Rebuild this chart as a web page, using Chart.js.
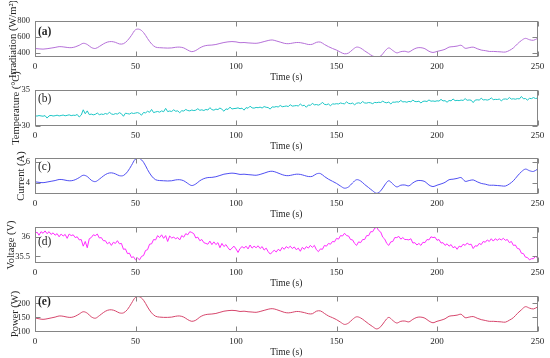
<!DOCTYPE html>
<html>
<head>
<meta charset="utf-8">
<script src="https://cdn.jsdelivr.net/npm/chart.js@4.4.1/dist/chart.umd.min.js"></script>
<style>
  html, body { margin: 0; padding: 0; background: #fff; }
  #wrap { position: relative; width: 550px; height: 358px; overflow: hidden; }
  canvas { position: absolute; left: 0; }
</style>
</head>
<body>
<div id="wrap">
  <canvas id="panel-a" width="550" height="86" style="top:1px"></canvas>
  <canvas id="panel-b" width="550" height="86" style="top:70px"></canvas>
  <canvas id="panel-c" width="550" height="86" style="top:138px"></canvas>
  <canvas id="panel-d" width="550" height="86" style="top:207px"></canvas>
  <canvas id="panel-e" width="550" height="86" style="top:276px"></canvas>
</div>
<script>
// Time axis
const timeTicks = [0, 50, 100, 150, 200, 250];
const smoothStep = 2; // seconds between samples for (a), (c), (e)
const noisyStep = 1;  // seconds between samples for (b), (d)

// (a) Irradiation (W/m2), every 2 s
const irradiation = [
    455, 450, 447, 452, 460, 468, 478, 475, 468, 465,
    475, 495, 520, 505, 468, 455, 480, 512, 535, 542,
    532, 512, 515, 555, 620, 690, 695, 655, 580, 512,
    472, 465, 462, 460, 462, 470, 472, 462, 435, 415,
    430, 462, 485, 495, 498, 505, 518, 530, 538, 542,
    538, 528, 530, 525, 522, 520, 528, 542, 555, 562,
    550, 535, 520, 515, 522, 530, 528, 518, 505, 508,
    532, 535, 505, 478, 455, 435, 408, 388, 398, 440,
    472, 460, 425, 392, 360, 348, 360, 420, 462, 430,
    400, 415, 420, 410, 440, 462, 465, 452, 420, 405,
    418, 430, 445, 472, 478, 485, 495, 458, 465, 472,
    452, 435, 428, 418, 418, 415, 412, 410, 430, 462,
    512, 555, 582, 565, 558,
    582
];
const irradiationTicks = [400, 600, 800];

// (b) Temperature (°C), every 1 s
const temperature = [
    31.42, 31.38, 31.45, 31.40, 31.36, 31.44, 31.10, 31.41, 31.47, 31.39,
    31.43, 31.50, 31.40, 31.46, 31.52, 31.42, 31.48, 31.55, 31.44, 31.50,
    31.47, 31.60, 31.25, 31.52, 32.25, 31.70, 32.10, 31.58, 31.65, 31.55,
    31.62, 31.80, 31.57, 31.66, 31.60, 31.74, 31.63, 31.92, 31.68, 31.60,
    31.72, 31.66, 31.85, 31.70, 31.35, 31.78, 31.72, 31.66, 31.82, 31.74,
    31.80, 31.86, 31.75, 31.50, 31.88, 31.82, 32.05, 31.90, 32.30, 31.86,
    31.95, 32.02, 31.92, 32.10, 31.98, 32.45, 32.00, 32.08, 32.02, 32.25,
    32.05, 32.10, 31.85, 32.12, 32.08, 32.30, 32.15, 32.10, 32.22, 32.14,
    32.20, 32.40, 32.18, 32.25, 32.15, 32.30, 32.22, 32.55, 32.28, 32.20,
    32.35, 32.28, 32.50, 32.32, 32.05, 32.38, 32.30, 32.62, 32.36, 32.42,
    32.45, 32.52, 32.40, 32.48, 32.20, 32.55, 32.47, 32.75, 32.52, 32.48,
    32.58, 32.54, 32.62, 32.50, 32.70, 32.60, 32.56, 32.35, 32.66, 32.62,
    32.70, 32.64, 32.85, 32.68, 32.72, 32.78, 32.70, 32.95, 32.76, 32.80,
    32.84, 32.78, 33.05, 32.82, 32.88, 32.60, 32.92, 32.86, 33.15, 32.94,
    32.98, 32.90, 33.02, 33.30, 33.00, 32.96, 33.06, 32.80, 33.08, 33.04,
    33.10, 33.06, 33.20, 33.12, 33.08, 33.35, 33.14, 33.10, 33.18, 32.95,
    33.16, 33.22, 33.14, 33.40, 33.20, 33.18, 33.26, 33.22, 33.10, 33.28,
    33.24, 33.30, 33.26, 33.45, 33.28, 33.22, 33.34, 33.05, 33.32, 33.30,
    33.36, 33.32, 33.55, 33.34, 33.38, 33.30, 33.42, 33.36, 33.60, 33.40,
    33.38, 33.44, 33.20, 33.42, 33.46, 33.40, 33.62, 33.44, 33.48, 33.42,
    33.50, 33.46, 33.70, 33.48, 33.52, 33.30, 33.54, 33.50, 33.75, 33.52,
    33.56, 33.52, 33.60, 33.55, 33.80, 33.57, 33.62, 33.58, 33.25, 33.60,
    33.64, 33.60, 33.85, 33.62, 33.66, 33.60, 33.68, 33.90, 33.66, 33.70,
    33.68, 33.74, 33.50, 33.72, 33.76, 33.70, 33.95, 33.74, 33.78, 33.72,
    33.80, 33.76, 34.10, 33.78, 33.82, 33.60, 33.84, 33.80, 33.95, 33.82,
    33.86
];
const temperatureTicks = [30, 35];

// (c) Current (A), every 2 s
const current = [
    4.10, 4.05, 4.02, 4.08, 4.15, 4.22, 4.32, 4.30, 4.22, 4.20,
    4.30, 4.50, 4.72, 4.60, 4.25, 4.12, 4.35, 4.65, 4.88, 4.95,
    4.85, 4.68, 4.70, 5.05, 5.65, 6.25, 6.30, 5.95, 5.25, 4.65,
    4.30, 4.22, 4.20, 4.18, 4.20, 4.28, 4.30, 4.20, 3.95, 3.75,
    3.90, 4.20, 4.40, 4.50, 4.52, 4.58, 4.70, 4.82, 4.88, 4.92,
    4.88, 4.80, 4.82, 4.78, 4.75, 4.72, 4.80, 4.92, 5.05, 5.10,
    5.00, 4.85, 4.72, 4.68, 4.75, 4.82, 4.80, 4.70, 4.60, 4.62,
    4.85, 4.88, 4.60, 4.35, 4.15, 3.95, 3.70, 3.50, 3.62, 4.00,
    4.30, 4.18, 3.85, 3.55, 3.25, 3.02, 3.25, 3.80, 4.20, 3.90,
    3.62, 3.78, 3.80, 3.72, 4.00, 4.20, 4.22, 4.12, 3.80, 3.65,
    3.78, 3.90, 4.05, 4.30, 4.35, 4.42, 4.50, 4.15, 4.22, 4.28,
    4.10, 3.95, 3.88, 3.78, 3.78, 3.75, 3.72, 3.70, 3.90, 4.20,
    4.65, 5.05, 5.30, 5.15, 5.08,
    5.30
];
const currentTicks = [4, 6];

// (d) Voltage (V), every 1 s
const voltage = [
    36.08, 36.12, 36.04, 36.13, 36.09, 36.15, 36.08, 36.13, 36.06, 36.10,
    36.04, 36.08, 36.00, 36.07, 36.02, 36.06, 35.96, 36.07, 36.03, 36.05,
    35.98, 36.00, 35.92, 35.93, 35.76, 35.88, 35.72, 35.95, 35.98, 36.05,
    36.03, 36.07, 35.97, 35.98, 35.90, 35.90, 35.82, 35.86, 35.78, 35.86,
    35.83, 35.90, 35.82, 35.83, 35.68, 35.69, 35.57, 35.58, 35.47, 35.49,
    35.41, 35.46, 35.41, 35.50, 35.52, 35.65, 35.67, 35.81, 35.82, 35.93,
    35.92, 36.03, 35.98, 36.05, 35.96, 36.03, 35.88, 36.02, 35.97, 35.99,
    35.95, 35.98, 35.92, 36.03, 35.99, 36.08, 36.05, 36.13, 36.11, 36.08,
    35.97, 35.99, 35.90, 35.93, 35.85, 35.83, 35.81, 35.89, 35.80, 35.87,
    35.80, 35.85, 35.72, 35.83, 35.75, 35.80, 35.72, 35.66, 35.71, 35.76,
    35.69, 35.60, 35.70, 35.75, 35.71, 35.76, 35.69, 35.79, 35.71, 35.76,
    35.72, 35.77, 35.70, 35.75, 35.66, 35.71, 35.62, 35.56, 35.60, 35.66,
    35.61, 35.68, 35.64, 35.73, 35.68, 35.75, 35.71, 35.76, 35.70, 35.74,
    35.67, 35.71, 35.63, 35.73, 35.68, 35.75, 35.71, 35.78, 35.73, 35.78,
    35.67, 35.62, 35.69, 35.68, 35.78, 35.76, 35.83, 35.81, 35.88, 35.87,
    35.96, 35.94, 36.03, 36.02, 36.09, 36.03, 36.02, 35.93, 35.92, 35.83,
    35.78, 35.87, 35.85, 35.93, 35.93, 36.03, 36.03, 36.13, 36.13, 36.22,
    36.24, 36.16, 36.12, 35.99, 35.94, 35.83, 35.78, 35.87, 35.88, 35.98,
    35.98, 36.01, 35.94, 35.98, 35.93, 35.93, 35.92, 35.95, 35.84, 35.85,
    35.79, 35.83, 35.78, 35.86, 35.85, 35.93, 35.92, 36.00, 35.98, 35.99,
    35.91, 35.93, 35.84, 35.85, 35.78, 35.82, 35.76, 35.80, 35.72, 35.75,
    35.68, 35.76, 35.74, 35.81, 35.78, 35.84, 35.80, 35.81, 35.70, 35.77,
    35.76, 35.83, 35.80, 35.88, 35.86, 35.92, 35.88, 35.95, 35.89, 35.95,
    35.91, 35.95, 35.92, 35.96, 35.91, 35.93, 35.85, 35.88, 35.78, 35.79,
    35.70, 35.69, 35.58, 35.57, 35.48, 35.47, 35.41, 35.44, 35.44, 35.50,
    35.46
];
const voltageTicks = [35.5, 36];

// (e) Power (W), every 2 s
const power = [
    148, 145, 143, 145, 148, 151, 155, 154, 151, 150,
    154, 162, 170, 165, 152, 147, 156, 167, 175, 177,
    173, 166, 166, 178, 200, 221, 223, 211, 187, 166,
    154, 151, 150, 150, 151, 154, 155, 151, 142, 136,
    140, 151, 158, 161, 162, 164, 168, 172, 174, 175,
    174, 171, 172, 170, 169, 168, 171, 175, 179, 181,
    178, 173, 168, 166, 168, 171, 170, 167, 163, 163,
    172, 173, 164, 155, 149, 142, 133, 125, 130, 143,
    152, 148, 138, 127, 117, 109, 117, 136, 150, 139,
    130, 136, 137, 134, 143, 150, 151, 147, 137, 131,
    136, 140, 145, 154, 156, 158, 161, 149, 151, 153,
    147, 142, 139, 136, 136, 135, 134, 133, 140, 149,
    164, 177, 188, 183, 180,
    187
];
const powerTicks = [100, 150, 200];

const serif = '"Liberation Serif", "Times New Roman", serif';

// MATLAB-like box with inward ticks on all four sides, plus the panel tag
const boxPlugin = {
    id: 'matlabBox',
    afterDatasetsDraw(chart, args, opts) {
        const ctx = chart.ctx;
        const a = chart.chartArea;
        const xs = chart.scales.x;
        const ys = chart.scales.y;
        const L = 5;
        const left = Math.round(a.left) + 0.5;
        const right = Math.round(a.right) - 0.5;
        const top = Math.round(a.top) + 0.5;
        const bottom = Math.round(a.bottom) - 0.5;
        ctx.save();
        ctx.strokeStyle = '#858585';
        ctx.lineWidth = 1;
        ctx.beginPath();
        xs.ticks.forEach(t => {
            const px = Math.round(xs.getPixelForValue(t.value)) + 0.5;
            ctx.moveTo(px, bottom); ctx.lineTo(px, bottom - L);
            ctx.moveTo(px, top); ctx.lineTo(px, top + L);
        });
        ys.ticks.forEach(t => {
            const py = Math.round(ys.getPixelForValue(t.value)) + 0.5;
            ctx.moveTo(left, py); ctx.lineTo(left + L, py);
            ctx.moveTo(right, py); ctx.lineTo(right - L, py);
        });
        ctx.stroke();
        ctx.strokeRect(left, top, right - left, bottom - top);
        ctx.fillStyle = '#1e1e1e';
        ctx.font = (opts.bold ? 'bold ' : '') + '11.5px ' + serif;
        ctx.textBaseline = 'middle';
        ctx.textAlign = 'left';
        ctx.fillText(opts.tag, a.left + 3, a.top + opts.tagDy);
        ctx.restore();
    }
};

function makePanel(id, values, step, color, yMin, yMax, yTicks, yTitle, titlePad, tag, bold, tagDy, noisy) {
    const points = values.map((v, i) => ({ x: i * step, y: v }));
    return new Chart(document.getElementById(id), {
        type: 'line',
        data: {
            datasets: [{
                data: points,
                borderColor: color,
                borderWidth: 1,
                pointRadius: 0,
                fill: false,
                tension: noisy ? 0 : 0.35
            }]
        },
        options: {
            responsive: false,
            animation: false,
            events: [],
            layout: { padding: { top: 20, left: 0, right: 12.5, bottom: 0 } },
            plugins: {
                legend: { display: false },
                tooltip: { enabled: false },
                matlabBox: { tag: tag, bold: bold, tagDy: tagDy }
            },
            scales: {
                x: {
                    type: 'linear',
                    min: 0,
                    max: 250,
                    afterBuildTicks: s => { s.ticks = timeTicks.map(v => ({ value: v })); },
                    afterFit: s => { s.height = 30; },
                    grid: { display: false, drawTicks: false },
                    border: { display: false },
                    ticks: {
                        autoSkip: false,
                        maxRotation: 0,
                        padding: 4,
                        color: '#262626',
                        font: { family: serif, size: 9 },
                        callback: v => String(v)
                    },
                    title: {
                        display: true,
                        text: 'Time (s)',
                        color: '#262626',
                        font: { family: serif, size: 9.5 },
                        padding: { top: 0, bottom: 4 }
                    }
                },
                y: {
                    min: yMin,
                    max: yMax,
                    afterBuildTicks: s => { s.ticks = yTicks.map(v => ({ value: v })); },
                    afterFit: s => { s.width = 35; },
                    grid: { display: false, drawTicks: false },
                    border: { display: false },
                    ticks: {
                        autoSkip: false,
                        padding: 5,
                        color: '#262626',
                        font: { family: serif, size: 8.5 },
                        callback: v => String(v)
                    },
                    title: {
                        display: true,
                        text: yTitle,
                        color: '#262626',
                        font: { family: serif, size: 10.5 },
                        padding: { top: titlePad, bottom: 0 }
                    }
                }
            }
        },
        plugins: [boxPlugin]
    });
}

makePanel('panel-a', irradiation, smoothStep, '#b570d8', 348, 800, irradiationTicks,
    'Irradiation (W/m²)', 7, '(a)', true, 11, false);
makePanel('panel-b', temperature, noisyStep, '#1cc6c6', 30, 35, temperatureTicks,
    'Temperature (°C)', 9.5, '(b)', false, 9, true);
makePanel('panel-c', current, smoothStep, '#4f4ff2', 2.95, 6.35, currentTicks,
    'Current (A)', 15, '(c)', false, 9, false);
makePanel('panel-d', voltage, noisyStep, '#ff2bff', 35.33, 36.25, voltageTicks,
    'Voltage (V)', 4.5, '(d)', false, 15, true);
makePanel('panel-e', power, smoothStep, '#d6466c', 98, 226, powerTicks,
    'Power (W)', 8.5, '(e)', true, 6, false);
</script>
</body>
</html>
